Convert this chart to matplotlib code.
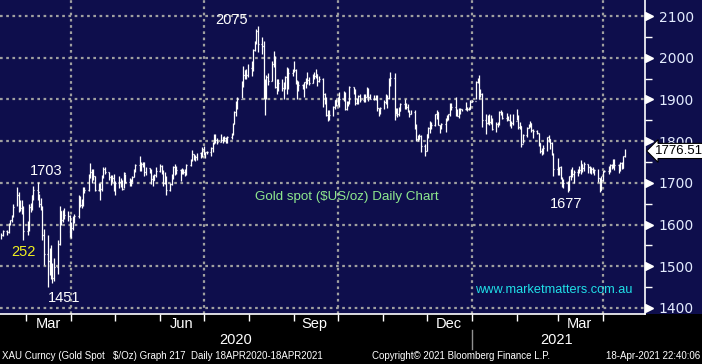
import numpy as np
import pandas as pd
import matplotlib
matplotlib.use("Agg")
import matplotlib.pyplot as plt
import matplotlib.dates as mdates
from matplotlib import font_manager
from matplotlib.patches import Rectangle
from matplotlib.transforms import blended_transform_factory

# daily gold spot bars, trading days from 13 Feb 2020
closes = [
    1576, 1585,
    1581, 1601, 1611, 1620, 1643,
    1672, 1650, 1640, 1643, 1585,
    1592, 1641, 1637, 1670, 1683,
    1679, 1650, 1642, 1576, 1530,
    1513, 1526, 1477, 1471, 1498,
    1553, 1632, 1612, 1630, 1623,
    1621, 1577, 1591, 1613, 1620,
    1663, 1647, 1647, 1683, 1683,
    1714, 1726, 1717, 1717, 1683,
    1695, 1686, 1714, 1734, 1727,
    1713, 1707, 1712, 1687, 1700,
    1702, 1704, 1686, 1724, 1702,
    1697, 1700, 1715, 1730, 1743,
    1733, 1745, 1747, 1725, 1735,
    1727, 1710, 1708, 1718, 1728,
    1740, 1727, 1699, 1714, 1684,
    1698, 1714, 1737, 1727, 1730,
    1725, 1726, 1727, 1722, 1743,
    1754, 1768, 1761, 1763, 1771,
    1771, 1780, 1770, 1775, 1774,
    1783, 1795, 1810, 1803, 1798,
    1802, 1809, 1808, 1797, 1810,
    1818, 1842, 1871, 1888, 1902,
    1942, 1958, 1970, 1958, 1975,
    1977, 2018, 2038, 2063, 2034,
    2028, 1911, 1914, 1954, 1944,
    1986, 2002, 1929, 1946, 1940,
    1928, 1929, 1953, 1930, 1964,
    1968, 1970, 1944, 1930, 1934,
    1931, 1942, 1947, 1946, 1940,
    1957, 1955, 1960, 1945, 1950,
    1912, 1900, 1863, 1868, 1862,
    1881, 1898, 1887, 1904, 1900,
    1914, 1877, 1888, 1894, 1930,
    1922, 1892, 1902, 1908, 1899,
    1904, 1907, 1924, 1905, 1902,
    1902, 1907, 1879, 1868, 1879,
    1895, 1908, 1904, 1949, 1951,
    1862, 1877, 1866, 1873, 1889,
    1888, 1881, 1872, 1866, 1871,
    1837, 1805, 1806, 1812, 1788,
    1776, 1816, 1831, 1841, 1838,
    1864, 1871, 1838, 1836, 1840,
    1853, 1855, 1864, 1885, 1881,
    1871, 1861, 1870, 1877, 1876,
    1879, 1876, 1878, 1895, 1897,
    1943, 1950, 1918, 1913, 1850,
    1844, 1855, 1845, 1851, 1829,
    1840, 1840, 1871, 1869, 1855,
    1856, 1851, 1843, 1843, 1848,
    1861, 1834, 1836, 1794, 1814,
    1831, 1837, 1843, 1826, 1824,
    1819, 1796, 1776, 1775, 1784,
    1809, 1806, 1796, 1768, 1734,
    1724, 1738, 1712, 1697, 1700,
    1684, 1716, 1726, 1722, 1727,
    1731, 1730, 1745, 1736, 1745,
    1738, 1727, 1734, 1725, 1732,
    1712, 1684, 1708, 1728, 1729,
    1728, 1744, 1737, 1756, 1744,
    1732, 1747, 1736, 1764, 1776.51,
]
highs = [
    1580, 1588,
    1586, 1603, 1612, 1624, 1649,
    1689, 1677, 1660, 1659, 1645,
    1609, 1650, 1652, 1671, 1692,
    1703, 1674, 1663, 1645, 1590,
    1575, 1544, 1552, 1507, 1520,
    1562, 1645, 1633, 1635, 1639,
    1633, 1623, 1606, 1620, 1626,
    1671, 1669, 1662, 1690, 1690,
    1722, 1747, 1733, 1733, 1716,
    1699, 1699, 1719, 1737, 1739,
    1726, 1718, 1718, 1722, 1704,
    1717, 1711, 1708, 1726, 1722,
    1712, 1710, 1717, 1734, 1745,
    1765, 1750, 1749, 1749, 1738,
    1736, 1733, 1718, 1722, 1738,
    1745, 1744, 1732, 1726, 1716,
    1699, 1721, 1740, 1745, 1740,
    1733, 1736, 1734, 1734, 1745,
    1757, 1779, 1770, 1767, 1772,
    1773, 1785, 1788, 1775, 1776,
    1787, 1797, 1818, 1818, 1808,
    1817, 1811, 1813, 1810, 1812,
    1820, 1844, 1873, 1897, 1905,
    1945, 1981, 1971, 1972, 1984,
    1993, 2020, 2040, 2069, 2075,
    2049, 2039, 1948, 1959, 1964,
    1992, 2015, 2005, 1950, 1949,
    1949, 1942, 1955, 1977, 1975,
    1974, 1992, 1972, 1947, 1945,
    1938, 1943, 1952, 1965, 1954,
    1960, 1966, 1973, 1961, 1956,
    1952, 1916, 1905, 1875, 1874,
    1884, 1899, 1900, 1907, 1917,
    1920, 1919, 1897, 1896, 1933,
    1930, 1926, 1904, 1910, 1912,
    1912, 1912, 1931, 1927, 1913,
    1910, 1911, 1910, 1880, 1882,
    1899, 1912, 1910, 1951, 1965,
    1964, 1880, 1880, 1883, 1891,
    1900, 1891, 1888, 1875, 1874,
    1875, 1840, 1814, 1816, 1815,
    1792, 1816, 1833, 1848, 1846,
    1865, 1875, 1871, 1839, 1843,
    1856, 1863, 1866, 1891, 1891,
    1907, 1878, 1879, 1880, 1878,
    1895, 1883, 1883, 1899, 1898,
    1945, 1952, 1959, 1925, 1915,
    1864, 1863, 1864, 1862, 1855,
    1845, 1846, 1872, 1875, 1870,
    1867, 1860, 1865, 1848, 1864,
    1876, 1862, 1845, 1836, 1817,
    1834, 1840, 1849, 1844, 1828,
    1826, 1820, 1796, 1784, 1790,
    1811, 1815, 1805, 1798, 1771,
    1760, 1739, 1740, 1714, 1710,
    1705, 1717, 1733, 1739, 1732,
    1734, 1741, 1755, 1746, 1749,
    1745, 1741, 1737, 1737, 1734,
    1733, 1711, 1717, 1729, 1731,
    1741, 1745, 1745, 1758, 1757,
    1746, 1750, 1750, 1764, 1780,
]
lows = [
    1565, 1572,
    1575, 1580, 1598, 1606, 1618,
    1644, 1631, 1633, 1626, 1563,
    1575, 1585, 1630, 1635, 1660,
    1660, 1641, 1635, 1562, 1504,
    1451, 1478, 1470, 1460, 1465,
    1482, 1550, 1600, 1605, 1613,
    1609, 1570, 1567, 1586, 1604,
    1615, 1643, 1640, 1644, 1675,
    1680, 1712, 1700, 1707, 1680,
    1680, 1660, 1681, 1712, 1722,
    1706, 1696, 1702, 1681, 1671,
    1688, 1690, 1683, 1687, 1700,
    1693, 1693, 1701, 1714, 1727,
    1728, 1728, 1739, 1716, 1719,
    1723, 1697, 1693, 1706, 1715,
    1726, 1722, 1693, 1697, 1670,
    1681, 1694, 1710, 1720, 1722,
    1704, 1721, 1721, 1717, 1720,
    1741, 1752, 1754, 1752, 1755,
    1759, 1762, 1766, 1759, 1768,
    1764, 1773, 1793, 1795, 1792,
    1798, 1795, 1800, 1795, 1795,
    1805, 1814, 1840, 1860, 1876,
    1903, 1930, 1950, 1950, 1954,
    1956, 1969, 2016, 2033, 2014,
    2010, 1900, 1863, 1901, 1934,
    1944, 1978, 1928, 1914, 1921,
    1920, 1902, 1924, 1912, 1924,
    1956, 1966, 1937, 1902, 1920,
    1924, 1906, 1928, 1938, 1935,
    1940, 1948, 1952, 1932, 1942,
    1882, 1890, 1860, 1848, 1850,
    1860, 1876, 1885, 1887, 1883,
    1896, 1875, 1874, 1884, 1888,
    1914, 1887, 1888, 1890, 1895,
    1894, 1894, 1907, 1897, 1901,
    1898, 1898, 1873, 1860, 1864,
    1878, 1890, 1880, 1901, 1932,
    1851, 1866, 1859, 1861, 1872,
    1878, 1876, 1869, 1857, 1864,
    1829, 1800, 1800, 1805, 1775,
    1764, 1776, 1807, 1820, 1829,
    1836, 1854, 1838, 1820, 1828,
    1823, 1849, 1850, 1860, 1875,
    1860, 1860, 1855, 1865, 1873,
    1874, 1873, 1875, 1878, 1893,
    1900, 1940, 1900, 1905, 1835,
    1817, 1840, 1838, 1842, 1827,
    1823, 1835, 1838, 1863, 1852,
    1848, 1850, 1836, 1831, 1838,
    1850, 1830, 1830, 1785, 1796,
    1810, 1832, 1834, 1823, 1807,
    1818, 1788, 1771, 1767, 1770,
    1776, 1798, 1782, 1767, 1717,
    1720, 1718, 1710, 1690, 1687,
    1677, 1683, 1706, 1713, 1699,
    1717, 1723, 1721, 1727, 1728,
    1724, 1724, 1722, 1723, 1720,
    1702, 1677, 1683, 1704, 1725,
    1721, 1725, 1733, 1735, 1731,
    1724, 1729, 1733, 1735, 1762,
]
first_open = 1570

month_labels = ["Mar", "Jun", "Sep", "Dec", "Mar"]
month_label_dates = ["2020-03-16", "2020-06-16", "2020-09-15", "2020-12-16", "2021-03-16"]
year_labels = ["2020", "2021"]
year_label_dates = ["2020-07-23", "2021-02-28"]
year_break = "2021-01-01"

notes = [  # text, date, price, colour
    ("2075", "2020-07-20", 2090, "white"),
    ("1703", "2020-03-15", 1728, "white"),
    ("252", "2020-02-28", 1535, "#f0f020"),
    ("1451", "2020-03-27", 1425, "white"),
    ("1677", "2021-03-07", 1650, "white"),
]

# condensed face for the footer if it exists
names = {f.name for f in font_manager.fontManager.ttflist}
NARROW = "Liberation Sans Narrow" if "Liberation Sans Narrow" in names else "Liberation Sans"
narrow_size = 8.2 if NARROW == "Liberation Sans Narrow" else 7.0

NAVY = "#0e0e4c"
W, H = 702, 364
fig = plt.figure(figsize=(W / 100, H / 100), dpi=100, facecolor="black")
ax_l, ax_b, ax_w, ax_h = 0, 50 / H, 645 / W, 314 / H
fig.patches.append(Rectangle((0, ax_b), 1, 1 - ax_b, transform=fig.transFigure,
                             facecolor=NAVY, edgecolor="none", zorder=-5))
ax = fig.add_axes([ax_l, ax_b, ax_w, ax_h], zorder=2)
ax.set_facecolor(NAVY)

dates = pd.bdate_range("2020-02-13", periods=len(closes))
x = mdates.date2num(dates)
closes = np.array(closes, dtype=float)
opens = np.concatenate([[first_open], closes[:-1]])
half = 0.6

ax.vlines(x, lows, highs, color="white", lw=0.9, zorder=3)
ax.hlines(opens, x - half, x, color="white", lw=0.9, zorder=3)
ax.hlines(closes, x, x + half, color="white", lw=0.9, zorder=3)

ax.set_xlim(mdates.date2num(pd.Timestamp("2020-02-12")), mdates.date2num(pd.Timestamp("2021-04-30")))
ax.set_ylim(1385.6, 2138.4)

ax.yaxis.tick_right()
ax.set_yticks(range(1400, 2101, 100))
ax.set_yticks(range(1450, 2101, 100), minor=True)
ax.tick_params(axis="y", which="major", length=0, pad=10, labelsize=10, labelcolor="#e4ecff")
ax.tick_params(axis="y", which="minor", length=5, width=1, color="white", direction="out")

ax.xaxis.set_major_locator(mdates.MonthLocator(bymonth=[1, 4, 7, 10]))
ax.xaxis.set_minor_locator(mdates.MonthLocator())
ax.xaxis.set_major_formatter(plt.NullFormatter())
ax.tick_params(axis="x", which="both", length=5, width=1, color="white", direction="out")

ax.grid(True, which="major", color="#a0a0a0", lw=1.6, linestyle=(0, (1.2, 1.6)))
ax.set_axisbelow(True)

for s in ["top", "left"]:
    ax.spines[s].set_visible(False)
for s in ["right", "bottom"]:
    ax.spines[s].set_color("white")
    ax.spines[s].set_linewidth(1.2)

# triangle tick marks on the price axis
tr = blended_transform_factory(ax.transAxes, ax.transData)
ax.plot([1.006] * 8, range(1400, 2101, 100), marker=">", ms=6, color="white",
        ls="none", transform=tr, clip_on=False)

trx = blended_transform_factory(ax.transData, ax.transAxes)
for lab, d in zip(month_labels, month_label_dates):
    ax.text(mdates.date2num(pd.Timestamp(d)), -0.032, lab, transform=trx, ha="center", va="center",
            color="white", fontsize=10.5, fontfamily="Liberation Sans")
for lab, d in zip(year_labels, year_label_dates):
    ax.text(mdates.date2num(pd.Timestamp(d)), -0.083, lab, transform=trx, ha="center", va="center",
            color="white", fontsize=10.5, fontfamily="Liberation Sans")
xb = mdates.date2num(pd.Timestamp(year_break))
ax.plot([xb, xb], [-0.05, -0.11], transform=trx, color="#909090", lw=1, clip_on=False)

for txt, d, p, c in notes:
    ax.text(mdates.date2num(pd.Timestamp(d)), p, txt, color=c, ha="center", va="center",
            fontsize=10.5, fontfamily="Liberation Sans")

ax.text(mdates.date2num(pd.Timestamp("2020-10-07")), 1665, "Gold spot ($US/oz) Daily Chart",
        color="#8ee88e", ha="center", va="center", fontsize=9.6, fontfamily="Liberation Sans")
ax.text(mdates.date2num(pd.Timestamp("2021-01-03")), 1443, "www.marketmatters.com.au",
        color="#20e0e8", ha="left", va="center", fontsize=9.2, fontfamily="Liberation Sans")

ax.text(1.015, closes[-1], f"{closes[-1]:.2f}", transform=tr, color="black", ha="left",
        va="center", fontsize=9.5, fontfamily="Liberation Sans", clip_on=False, zorder=5,
        bbox=dict(boxstyle="larrow,pad=0.12", fc="white", ec="black", lw=0.8))

foot = dict(color="white", fontsize=narrow_size, fontfamily=NARROW, va="center")
fig.text(2 / W, 1 - 356 / H, "XAU Curncy (Gold Spot   $/Oz) Graph 217  Daily 18APR2020-18APR2021", ha="left", **foot)
fig.text(372 / W, 1 - 356 / H, "Copyright\u00a9 2021 Bloomberg Finance L.P.", ha="left", **foot)
fig.text(700 / W, 1 - 356 / H, "18-Apr-2021 22:40:06", ha="right", **foot)

fig.savefig("out.png", dpi=100, facecolor="black")
